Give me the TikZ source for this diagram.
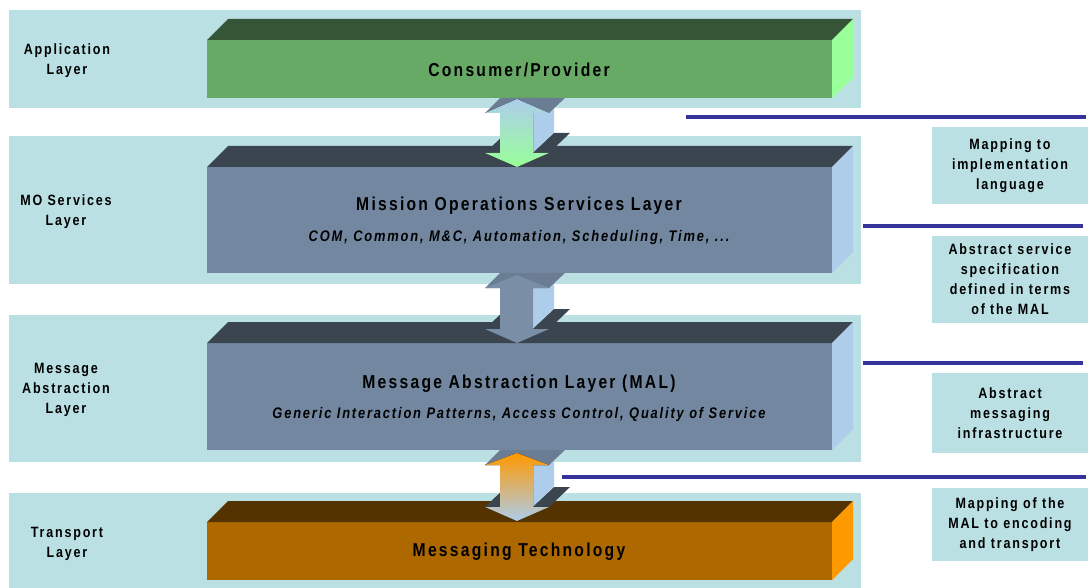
\documentclass[tikz,border=0pt]{standalone}
\usepackage{fontspec}
\setsansfont{Liberation Sans}[FakeStretch=0.84,LetterSpace=12]
\definecolor{bandblue}{HTML}{BBE0E3}
\definecolor{gfront}{HTML}{66AA66}
\definecolor{gtop}{HTML}{365536}
\definecolor{gside}{HTML}{99FF99}
\definecolor{sfront}{HTML}{7388A0}
\definecolor{stop}{HTML}{3B4550}
\definecolor{sside}{HTML}{ADCDEB}
\definecolor{mfront}{HTML}{AD6800}
\definecolor{mtop}{HTML}{553300}
\definecolor{mside}{HTML}{FF9900}
\definecolor{sepblue}{HTML}{333399}
\definecolor{ahead}{HTML}{6B7D93}
\tikzset{every picture/.style={line width=0.7pt}}
\tikzset{
  band/.style={fill=bandblue},
  sideword/.style={font=\sffamily\bfseries\fontsize{11.2}{15}\selectfont, align=center, inner sep=0pt},
  noteword/.style={fill=bandblue, minimum width=117pt, font=\sffamily\bfseries\fontsize{11.2}{15}\selectfont, align=center, inner sep=0pt},
  titleword/.style={font=\sffamily\bfseries\fontsize{14}{16}\selectfont, inner sep=0pt},
  subword/.style={font=\sffamily\bfseries\itshape\fontsize{11.5}{13}\selectfont, inner sep=0pt},
  sepline/.style={draw=sepblue, line width=2.8pt},
}
\begin{document}
\begin{tikzpicture}[x=0.75pt,y=0.75pt,yscale=-1,xscale=1]
\useasboundingbox (0,0) rectangle (1088,588);

%Shape: Rectangle [layer bands]
\fill[band] (9,10) rectangle (861,108);
\fill[band] (9,136) rectangle (861,284);
\fill[band] (9,315) rectangle (861,462);
\fill[band] (9,493) rectangle (861,588);

%Shape: Box [application layer]
\fill[gfront] (207,40) rectangle (832,98);
\fill[gtop] (207,40) -- (228,19) -- (853,19) -- (832,40) -- cycle;
\fill[gside] (832,40) -- (853,19) -- (853,78) -- (832,98) -- cycle;
%Shape: Box [MO services layer]
\fill[sfront] (207,167) rectangle (832,273);
\fill[stop] (207,167) -- (228,146) -- (853,146) -- (832,167) -- cycle;
\fill[sside] (832,167) -- (853,146) -- (853,252) -- (832,273) -- cycle;
%Shape: Box [message abstraction layer]
\fill[sfront] (207,343) rectangle (832,450);
\fill[stop] (207,343) -- (228,322) -- (853,322) -- (832,343) -- cycle;
\fill[sside] (832,343) -- (853,322) -- (853,429) -- (832,450) -- cycle;
%Shape: Box [transport layer]
\fill[mfront] (207,522) rectangle (832,580);
\fill[mtop] (207,522) -- (228,501) -- (853,501) -- (832,522) -- cycle;
\fill[mside] (832,522) -- (853,501) -- (853,559) -- (832,580) -- cycle;

%Shape: Double Arrow [application - MO services]
\fill[sside] (533,113) -- (554,98) -- (554,132) -- (533,153) -- cycle;
\fill[ahead] (485,113) -- (500,98) -- (565,98) -- (549,113) -- cycle;
\fill[stop] (485,153) -- (506,133) -- (521,133) -- (500,153) -- cycle;
\fill[stop] (533,153) -- (554,133) -- (570,133) -- (549,153) -- cycle;
\fill[top color=sside, bottom color=gside] (517,99) -- (549,113) -- (533,113) -- (533,153) -- (549,153) -- (517,167) -- (485,153) -- (500,153) -- (500,113) -- (485,113) -- cycle;
%Shape: Double Arrow [MO services - MAL]
\fill[sside] (533,288) -- (554,273) -- (554,308) -- (533,329) -- cycle;
\fill[ahead] (485,288) -- (500,273) -- (565,273) -- (549,288) -- cycle;
\fill[stop] (485,329) -- (506,309) -- (521,309) -- (500,329) -- cycle;
\fill[stop] (533,329) -- (554,309) -- (570,309) -- (549,329) -- cycle;
\fill[sfront!95!white] (517,275) -- (549,288) -- (533,288) -- (533,329) -- (549,329) -- (517,343) -- (485,329) -- (500,329) -- (500,288) -- (485,288) -- cycle;
%Shape: Double Arrow [MAL - transport]
\fill[sside] (533,465) -- (554,450) -- (554,486) -- (533,507) -- cycle;
\fill[ahead] (485,465) -- (500,450) -- (565,450) -- (549,465) -- cycle;
\fill[stop] (485,507) -- (506,487) -- (521,487) -- (500,507) -- cycle;
\fill[stop] (533,507) -- (554,487) -- (570,487) -- (549,507) -- cycle;
\fill[top color=mside, bottom color=sside] (517,453) -- (549,465) -- (533,465) -- (533,507) -- (549,507) -- (517,521) -- (485,507) -- (500,507) -- (500,465) -- (485,465) -- cycle;

%Straight Lines [separators]
\draw[sepline] (686,117) -- (1086,117);
\draw[sepline] (863,226) -- (1083,226);
\draw[sepline] (863,363) -- (1083,363);
\draw[sepline] (562,477) -- (1086,477);

% Text Node
\node (applbl) [sideword] at (67,61) {Application\\Layer};
% Text Node
\node (molbl) [sideword] at (66,212) {MO Services\\Layer};
% Text Node
\node (mallbl) [sideword] at (66,390) {Message\\Abstraction\\Layer};
% Text Node
\node (trlbl) [sideword] at (67,544) {Transport\\Layer};

% Text Node
\node (consumer) [titleword] at (519,70) {Consumer/Provider};
% Text Node
\node (mosl) [titleword] at (519,206) {Mission Operations Services Layer};
% Text Node
\node (mosub) [subword] at (519,238) {COM, Common, M\&C, Automation, Scheduling, Time, ...};
% Text Node
\node (mal) [titleword] at (519,384) {Message Abstraction Layer (MAL)};
% Text Node
\node (malsub) [subword] at (519,415) {Generic Interaction Patterns, Access Control, Quality of Service};
% Text Node
\node (msgtech) [titleword] at (519,552) {Messaging Technology};

% Text Node
\node (implnote) [noteword, minimum height=58pt] at (1010,165.5) {Mapping to\\implementation\\language};
% Text Node
\node (specnote) [noteword, minimum height=65pt] at (1010,279.5) {Abstract service\\specification\\defined in terms\\of the MAL};
% Text Node
\node (infranote) [noteword, minimum height=60pt] at (1010,413) {Abstract\\messaging\\infrastructure};
% Text Node
\node (encnote) [noteword, minimum height=55pt] at (1010,524.5) {Mapping of the\\MAL to encoding\\and transport};

\end{tikzpicture}
\end{document}
